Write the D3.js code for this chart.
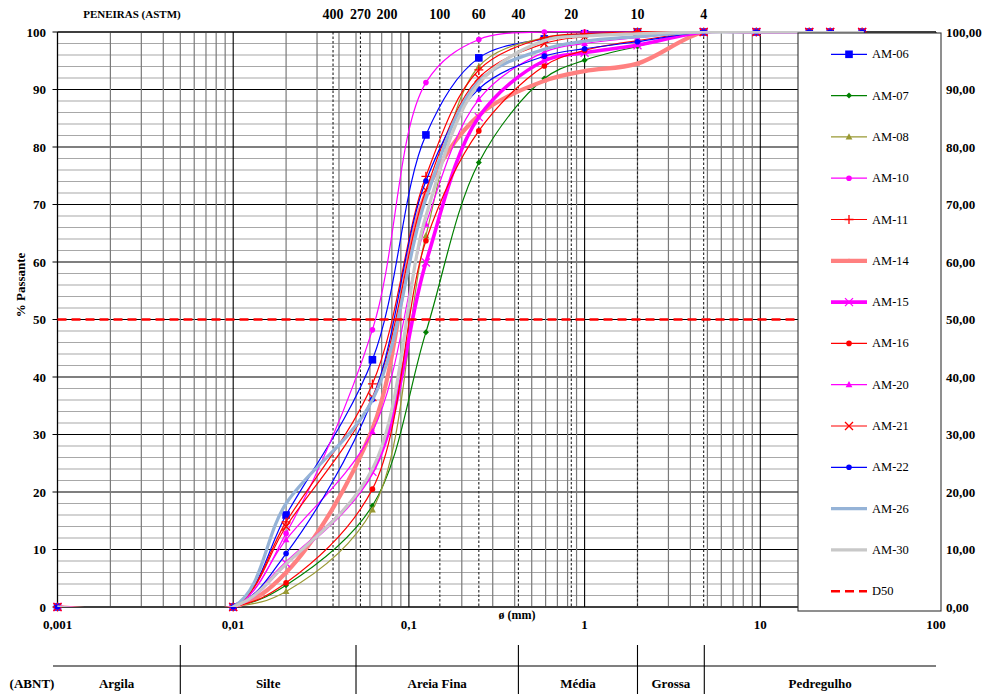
<!DOCTYPE html>
<html>
<head>
<meta charset="utf-8">
<script src="https://cdn.jsdelivr.net/npm/d3@7/dist/d3.min.js"></script>
<style>
  body { margin: 0; background: #fff; }
  svg { display: block; }
  text { font-family: "Liberation Serif", "Times New Roman", serif; fill: #000; }
</style>
</head>
<body>
<svg id="chart" width="985" height="694"></svg>
<script>
// Grain size (mm) of each measured point: sedimentation + sieve analysis
const diameters = [0.001, 0.01, 0.02, 0.062, 0.125, 0.25, 0.59, 1.0, 2.0, 4.76, 9.5, 19, 25, 38];

// % passing for each sample
const am06 = [0, 0, 16.0, 43.0, 82.1, 95.5, 98.8, 99.7, 100, 100, 100, 100, 100, 100];
const am07 = [0, 0, 3.8, 17.6, 47.8, 77.3, 91.9, 95.1, 97.5, 100, 100, 100, 100, 100];
const am08 = [0, 0, 2.7, 16.9, 64.6, 94.0, 99.0, 99.5, 100, 100, 100, 100, 100, 100];
const am10 = [0, 0, 12.8, 48.2, 91.2, 98.7, 100, 100, 100, 100, 100, 100, 100, 100];
const am11 = [0, 0, 14.8, 38.8, 74.9, 93.4, 99.0, 99.7, 100, 100, 100, 100, 100, 100];
const am14 = [0, 0, 6.0, 31.0, 72.0, 85.5, 91.5, 93.2, 94.5, 100, 100, 100, 100, 100];
const am15 = [0, 0, 7.6, 23.5, 59.9, 85.2, 95.0, 96.4, 97.7, 100, 100, 100, 100, 100];
const am16 = [0, 0, 4.2, 20.5, 63.7, 82.8, 94.1, 96.8, 98.5, 100, 100, 100, 100, 100];
const am20 = [0, 0, 11.7, 30.5, 66.6, 88.3, 96.5, 98.0, 99.0, 100, 100, 100, 100, 100];
const am21 = [0, 0, 14.0, 36.5, 72.5, 92.0, 98.0, 99.2, 100, 100, 100, 100, 100, 100];
const am22 = [0, 0, 9.3, 36.1, 74.1, 90.1, 95.8, 97.1, 98.3, 100, 100, 100, 100, 100];
const am26 = [0, 0, 18.0, 36.0, 71.0, 91.4, 97.0, 98.4, 99.2, 100, 100, 100, 100, 100];
const am30 = [0, 0, 7.5, 24.0, 68.0, 91.0, 98.5, 99.3, 99.7, 100, 100, 100, 100, 100];

const sampleNames = ["AM-06", "AM-07", "AM-08", "AM-10", "AM-11", "AM-14", "AM-15",
                     "AM-16", "AM-20", "AM-21", "AM-22", "AM-26", "AM-30"];
const sampleValues = [am06, am07, am08, am10, am11, am14, am15, am16, am20, am21, am22, am26, am30];

const d50Value = 50;

// ASTM sieves shown along the top
const sieveNumbers = ["400", "270", "200", "100", "60", "40", "20", "10", "4"];
const sieveSizes = [0.037, 0.053, 0.075, 0.15, 0.25, 0.42, 0.84, 2.0, 4.76];
const sieveGuides = [0.037, 0.053, 0.15, 0.25, 0.42, 0.84, 2.0, 4.76];

// Axis ticks
const xTickValues = [0.001, 0.01, 0.1, 1, 10, 100];
const xTickLabels = ["0,001", "0,01", "0,1", "1", "10", "100"];
const yTickValues = [0, 10, 20, 30, 40, 50, 60, 70, 80, 90, 100];

// ABNT soil fraction limits (mm) and names
const abntLimits = [0.005, 0.05, 0.42, 2.0, 4.8];
const abntNames = ["Argila", "Silte", "Areia Fina", "Média", "Grossa", "Pedregulho"];

// ---- drawing styles ----
const styles = {
  "AM-06": { color: "#0000FF", width: 1.2, marker: "square" },
  "AM-07": { color: "#008000", width: 1.2, marker: "diamond" },
  "AM-08": { color: "#999933", width: 1.2, marker: "triangle" },
  "AM-10": { color: "#FF00FF", width: 1.2, marker: "circle" },
  "AM-11": { color: "#FF0000", width: 1.2, marker: "plus" },
  "AM-14": { color: "#FF8080", width: 4.2, marker: "smalltri" },
  "AM-15": { color: "#FF00FF", width: 3.6, marker: "x" },
  "AM-16": { color: "#FF0000", width: 1.2, marker: "circle" },
  "AM-20": { color: "#FF00FF", width: 1.2, marker: "triangle" },
  "AM-21": { color: "#FF0000", width: 1.2, marker: "x" },
  "AM-22": { color: "#0000FF", width: 1.2, marker: "circle" },
  "AM-26": { color: "#95B3D7", width: 3.2, marker: null },
  "AM-30": { color: "#C8C8C8", width: 3.2, marker: null }
};

const svg = d3.select("#chart");
const W = 985, H = 694;
svg.append("rect").attr("width", W).attr("height", H).attr("fill", "#fff");

const x = d3.scaleLog().domain([0.001, 100]).range([57.5, 936]);
const y = d3.scaleLinear().domain([0, 100]).range([607, 32]);

const [x0, x1] = x.range();
const [yb, yt] = y.range();

svg.append("defs").append("clipPath").attr("id", "plotClip")
  .append("rect").attr("x", x0).attr("y", yt - 1).attr("width", x1 - x0).attr("height", yb - yt + 1);

// ---- grid ----
const grid = svg.append("g");
d3.range(0, 101, 2).forEach(v => {
  const major = v % 10 === 0;
  grid.append("line")
    .attr("x1", x0).attr("x2", x1).attr("y1", y(v)).attr("y2", y(v))
    .attr("stroke", major ? "#000" : "#a8a8a8")
    .attr("stroke-width", major ? 1.1 : 1.2);
});
x.ticks().forEach(t => {
  const major = Math.abs(Math.log10(t) - Math.round(Math.log10(t))) < 1e-9;
  grid.append("line")
    .attr("x1", x(t)).attr("x2", x(t)).attr("y1", yt).attr("y2", yb)
    .attr("stroke", major ? "#000" : "#7a7a7a")
    .attr("stroke-width", major ? 1.1 : 1.2);
});
// sieve guide lines
sieveGuides.forEach(s => {
  grid.append("line")
    .attr("x1", x(s)).attr("x2", x(s)).attr("y1", yt).attr("y2", yb)
    .attr("stroke", "#222").attr("stroke-width", 1.1)
    .attr("stroke-dasharray", "2.5,2");
});

// axes frame
svg.append("line").attr("x1", x0).attr("x2", x0).attr("y1", yt).attr("y2", yb)
  .attr("stroke", "#000").attr("stroke-width", 1.2);
svg.append("line").attr("x1", x0).attr("x2", x1).attr("y1", yb).attr("y2", yb)
  .attr("stroke", "#000").attr("stroke-width", 1.2);
svg.append("line").attr("x1", x0).attr("x2", x1).attr("y1", yt).attr("y2", yt)
  .attr("stroke", "#000").attr("stroke-width", 1.2);
yTickValues.forEach(v => {
  svg.append("line").attr("x1", x0 - 5).attr("x2", x0).attr("y1", y(v)).attr("y2", y(v))
    .attr("stroke", "#000").attr("stroke-width", 1);
});

// ---- markers ----
function drawMarker(g, type, cx, cy, color) {
  if (!type) return;
  if (type === "square") {
    g.append("rect").attr("x", cx - 3.8).attr("y", cy - 3.8).attr("width", 7.6).attr("height", 7.6)
      .attr("fill", color);
  } else if (type === "circle") {
    g.append("circle").attr("cx", cx).attr("cy", cy).attr("r", 2.8).attr("fill", color);
  } else if (type === "diamond") {
    g.append("path").attr("d", `M${cx},${cy - 3}L${cx + 3},${cy}L${cx},${cy + 3}L${cx - 3},${cy}Z`)
      .attr("fill", color);
  } else if (type === "triangle") {
    g.append("path").attr("d", `M${cx},${cy - 3.6}L${cx + 3.4},${cy + 2.6}L${cx - 3.4},${cy + 2.6}Z`)
      .attr("fill", color);
  } else if (type === "smalltri") {
    g.append("path").attr("d", `M${cx},${cy - 2.6}L${cx + 2.6},${cy + 2}L${cx - 2.6},${cy + 2}Z`)
      .attr("fill", color);
  } else if (type === "plus") {
    g.append("path").attr("d", `M${cx - 4.5},${cy}H${cx + 4.5}M${cx},${cy - 4.5}V${cy + 4.5}`)
      .attr("stroke", color).attr("stroke-width", 1.3).attr("fill", "none");
  } else if (type === "x") {
    g.append("path").attr("d", `M${cx - 4},${cy - 4}L${cx + 4},${cy + 4}M${cx - 4},${cy + 4}L${cx + 4},${cy - 4}`)
      .attr("stroke", color).attr("stroke-width", 1.3).attr("fill", "none");
  }
}

// ---- sample curves (smoothed, clipped to the plot area) ----
const line = d3.line()
  .x(d => x(d.d))
  .y(d => y(d.v))
  .curve(d3.curveCatmullRom.alpha(0.5));

const curves = svg.append("g");
sampleNames.forEach((name, i) => {
  const st = styles[name];
  const pts = diameters.map((d, j) => ({ d, v: sampleValues[i][j] }));
  const g = curves.append("g");
  g.append("path").datum(pts).attr("d", line)
    .attr("clip-path", "url(#plotClip)")
    .attr("fill", "none").attr("stroke", st.color).attr("stroke-width", st.width)
    .attr("stroke-linejoin", "round").attr("stroke-linecap", "round");
  pts.forEach(p => drawMarker(g, st.marker, x(p.d), y(p.v), st.color));
});

// D50 reference line
svg.append("line")
  .attr("x1", x(0.001)).attr("x2", x(100)).attr("y1", y(d50Value)).attr("y2", y(d50Value))
  .attr("stroke", "#FF0000").attr("stroke-width", 2.6).attr("stroke-dasharray", "9,5");

// ---- legend ----
const legend = svg.append("g");
legend.append("rect").attr("x", 798).attr("y", 33).attr("width", 143).attr("height", 578)
  .attr("fill", "#fff").attr("stroke", "#333").attr("stroke-width", 1.1);
const legendItems = sampleNames.concat(["D50"]);
legendItems.forEach((name, i) => {
  const ly = 54.3 + i * 41.3;
  if (name === "D50") {
    legend.append("line").attr("x1", 831).attr("x2", 867).attr("y1", ly).attr("y2", ly)
      .attr("stroke", "#FF0000").attr("stroke-width", 2.6).attr("stroke-dasharray", "9,5");
  } else {
    const st = styles[name];
    legend.append("line").attr("x1", 831).attr("x2", 867).attr("y1", ly).attr("y2", ly)
      .attr("stroke", st.color).attr("stroke-width", st.width);
    drawMarker(legend, st.marker, 849, ly, st.color);
  }
  legend.append("text").attr("x", 872).attr("y", ly).attr("dominant-baseline", "central")
    .attr("font-size", 12.5).text(name);
});

// ---- axis labels ----
const labels = svg.append("g").attr("font-weight", "bold");
yTickValues.forEach(v => {
  labels.append("text").attr("x", 46).attr("y", y(v)).attr("text-anchor", "end")
    .attr("dominant-baseline", "central").attr("font-size", 13).text(v);
  labels.append("text").attr("x", 946).attr("y", y(v)).attr("text-anchor", "start")
    .attr("dominant-baseline", "central").attr("font-size", 13)
    .text(v.toFixed(2).replace(".", ","));
});
xTickValues.forEach((t, i) => {
  labels.append("text").attr("x", x(t)).attr("y", 629).attr("text-anchor", "middle")
    .attr("font-size", 13).text(xTickLabels[i]);
});
labels.append("text").attr("x", 517).attr("y", 619).attr("text-anchor", "middle")
  .attr("font-size", 12).text("ø (mm)");
labels.append("text").attr("transform", "translate(20,285) rotate(-90)")
  .attr("text-anchor", "middle").attr("dominant-baseline", "central")
  .attr("font-size", 13).text("% Passante");

// sieve numbers
labels.append("text").attr("x", 132).attr("y", 18).attr("text-anchor", "middle")
  .attr("font-size", 11).text("PENEIRAS (ASTM)");
sieveSizes.forEach((s, i) => {
  labels.append("text").attr("x", x(s)).attr("y", 19).attr("text-anchor", "middle")
    .attr("font-size", 14).text(sieveNumbers[i]);
});

// ---- ABNT classification band ----
const band = svg.append("g");
band.append("line").attr("x1", 53).attr("x2", x1).attr("y1", 666).attr("y2", 666)
  .attr("stroke", "#000").attr("stroke-width", 1.1);
abntLimits.forEach(l => {
  band.append("line").attr("x1", x(l)).attr("x2", x(l)).attr("y1", 645).attr("y2", 694)
    .attr("stroke", "#000").attr("stroke-width", 1.1);
});
const bounds = [53].concat(abntLimits.map(l => x(l))).concat([x1]);
abntNames.forEach((n, i) => {
  band.append("text").attr("x", (bounds[i] + bounds[i + 1]) / 2).attr("y", 688)
    .attr("text-anchor", "middle").attr("font-weight", "bold").attr("font-size", 13).text(n);
});
band.append("text").attr("x", 32).attr("y", 688).attr("text-anchor", "middle")
  .attr("font-weight", "bold").attr("font-size", 13).text("(ABNT)");
</script>
</body>
</html>
